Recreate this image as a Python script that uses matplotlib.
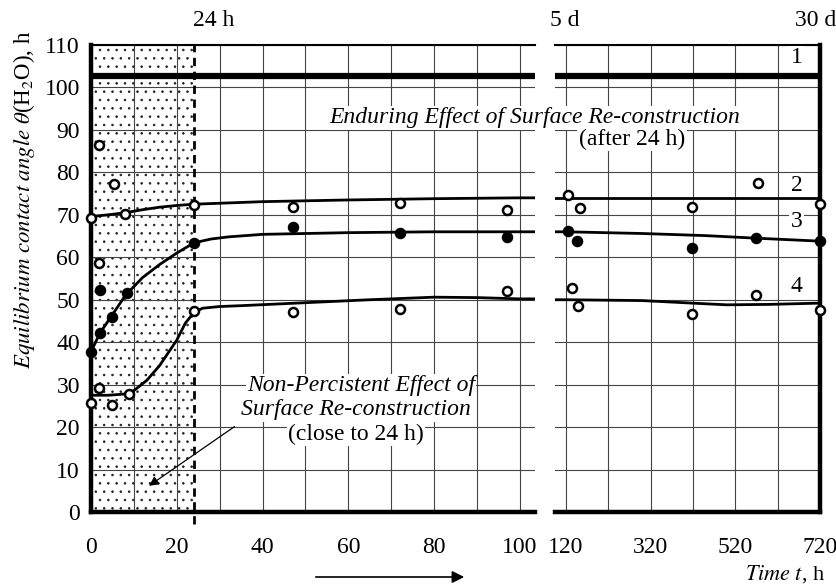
import matplotlib
matplotlib.use("Agg")
import matplotlib.pyplot as plt
from matplotlib.patches import Rectangle, FancyArrowPatch

plt.rcParams['font.family'] = ['Liberation Serif', 'DejaVu Serif']
plt.rcParams['mathtext.fontset'] = 'stix'
plt.rcParams['hatch.linewidth'] = 0.6

# ---------------- data ----------------
# curve 1 (constant)
c1_level = 102.8

# left panel (0-100 h) curve lines
c2_x = [0, 4, 8, 12, 16, 20, 24, 32, 40, 60, 80, 100, 103.5]
c2_y = [69.6, 70.0, 70.5, 71.2, 71.8, 72.2, 72.5, 72.8, 73.1, 73.5, 73.8, 74.0, 74.0]
c3_x = [0, 2, 5, 8, 12, 16, 20, 24, 28, 32, 40, 60, 80, 100, 103.5]
c3_y = [37.7, 42.0, 46.5, 51.0, 55.2, 58.3, 61.0, 63.4, 64.3, 64.8, 65.4, 65.8, 66.0, 66.0, 66.0]
c4_x = [0, 4, 8, 10, 13, 16, 18, 20, 22, 24, 26, 30, 35, 50, 65, 80, 90, 100, 103.5]
c4_y = [27.5, 27.5, 27.8, 28.6, 31.0, 34.5, 37.5, 40.5, 44.5, 47.0, 48.0, 48.4, 48.6, 49.3, 50.0, 50.6, 50.5, 50.2, 50.2]

# right panel (120-720 h) curve lines
r2_x = [95, 120, 320, 520, 720]
r2_y = [74.0, 74.0, 74.0, 74.0, 74.0]
r3_x = [95, 120, 300, 450, 568, 720]
r3_y = [66.0, 66.0, 65.6, 65.1, 64.5, 63.8]
r4_x = [95, 120, 300, 418, 500, 600, 720]
r4_y = [50.0, 50.0, 49.8, 49.2, 48.8, 48.9, 49.2]

# measured points: open circles
open_x_left = [0, 1.9, 5.3, 8, 24, 47, 72, 97,
               1.9, 24, 47, 72, 97,
               0, 1.9, 5, 8.9]
open_y_left = [69.3, 86.5, 77.3, 70.3, 72.4, 71.9, 72.8, 71.2,
               58.7, 47.4, 47.1, 47.8, 52.0,
               25.7, 29.2, 25.2, 27.8]
filled_x_left = [0, 2.1, 4.9, 8.3, 2.1, 24, 47, 72, 97]
filled_y_left = [37.7, 42.2, 46.0, 51.6, 52.3, 63.4, 67.1, 65.7, 64.8]

open_x_right = [125, 153, 418, 573, 720, 134, 148, 418, 568, 720]
open_y_right = [74.7, 71.6, 71.9, 77.5, 72.6, 52.8, 48.5, 46.6, 51.1, 47.6]
filled_x_right = [125, 146, 418, 568, 720]
filled_y_right = [66.2, 63.8, 62.2, 64.5, 63.8]

left_ticks = [0, 20, 40, 60, 80, 100]
left_minor = [10, 30, 50, 70, 90]
right_ticks = [120, 320, 520, 720]
right_minor = [220, 420, 620]
y_ticks = list(range(0, 111, 10))
curve_labels = ['1', '2', '3', '4']
curve_label_y = [107, 77, 68.5, 53]

# ---------------- figure ----------------
W, H = 837, 587
fig = plt.figure(figsize=(W / 100, H / 100), dpi=100)

def fx(px):
    return px / W

def fy(py):
    return 1 - py / H

axL = fig.add_axes([fx(91), fy(512), fx(535) - fx(91), fy(45) - fy(512)])
axR = fig.add_axes([fx(555), fy(512), fx(820) - fx(555), fy(45) - fy(512)])

FS = 17
for ax in (axL, axR):
    ax.set_ylim(0, 110)
    ax.set_yticks(y_ticks)
    ax.grid(True, which='both', color='#444444', lw=0.8, zorder=0)
    ax.tick_params(which='both', length=0, labelsize=FS, pad=18)
    ax.spines['top'].set_linewidth(1.5)
    ax.spines['bottom'].set_linewidth(3.2)
    ax.set_axisbelow(True)

axL.set_xlim(0, 103.5)
axL.set_xticks(left_ticks)
axL.set_xticks(left_minor, minor=True)
axL.spines['left'].set_linewidth(3.2)
axL.spines['right'].set_visible(False)
axL.tick_params(axis='y', pad=8)

axR.set_xlim(94, 720)
axR.set_xticks(right_ticks)
axR.set_xticks(right_minor, minor=True)
axR.spines['right'].set_linewidth(3.2)
axR.spines['left'].set_visible(False)
axR.tick_params(axis='y', labelleft=False)

# shaded dotted region (0-24 h)
axL.add_patch(Rectangle((0, 0), 24, 110, facecolor='white', edgecolor='#222222',
                        hatch='..', lw=0, zorder=0.5))
axL.plot([24, 24], [-2.8, 110], ls=(0, (3, 2)), color='black', lw=2, clip_on=False, zorder=3)

# lines
axL.axhline(c1_level, color='black', lw=4.5, zorder=3)
axR.axhline(c1_level, color='black', lw=4.5, zorder=3)
for x, y in [(c2_x, c2_y), (c3_x, c3_y), (c4_x, c4_y)]:
    axL.plot(x, y, color='black', lw=2, zorder=3)
for x, y in [(r2_x, r2_y), (r3_x, r3_y), (r4_x, r4_y)]:
    axR.plot(x, y, color='black', lw=2, zorder=3)

mk = dict(s=42, zorder=5, clip_on=False)
axL.scatter(open_x_left, open_y_left, facecolor='white', edgecolor='black', linewidths=1.8, **mk)
axL.scatter(filled_x_left, filled_y_left, facecolor='black', edgecolor='black', linewidths=1.8, **mk)
axR.scatter(open_x_right, open_y_right, facecolor='white', edgecolor='black', linewidths=1.8, **mk)
axR.scatter(filled_x_right, filled_y_right, facecolor='black', edgecolor='black', linewidths=1.8, **mk)

# curve number labels
for lab, yv in zip(curve_labels, curve_label_y):
    axR.text(665, yv, lab, fontsize=FS, ha='center', va='center', zorder=6,
             bbox=dict(facecolor='white', edgecolor='none', pad=1))

# top labels
fig.text(fx(214), fy(20), '24 h', fontsize=FS, ha='center', va='center')
fig.text(fx(565), fy(20), '5 d', fontsize=FS, ha='center', va='center')
fig.text(fx(836), fy(20), '30 d', fontsize=FS, ha='right', va='center')

# annotation texts
fig.text(fx(535), fy(118), 'Enduring Effect of Surface Re-construction', fontsize=FS,
         style='italic', ha='center', va='center', zorder=6,
         bbox=dict(facecolor='white', edgecolor='none', pad=1))
fig.text(fx(632), fy(139), '(after 24 h)', fontsize=FS, ha='center', va='center', zorder=6,
         bbox=dict(facecolor='white', edgecolor='none', pad=1))

axL.annotate('', xy=(13, 5.8), xytext=(34, 20.5),
             arrowprops=dict(arrowstyle='-|>', color='black', lw=0.9, mutation_scale=14),
             zorder=4)
fig.text(fx(361), fy(386), 'Non-Percistent Effect of', fontsize=FS, style='italic',
         ha='center', va='center', zorder=6,
         bbox=dict(facecolor='white', edgecolor='none', pad=1))
fig.text(fx(356), fy(410), 'Surface Re-construction', fontsize=FS, style='italic',
         ha='center', va='center', zorder=6,
         bbox=dict(facecolor='white', edgecolor='none', pad=1))
fig.text(fx(356), fy(434), '(close to 24 h)', fontsize=FS, ha='center', va='center', zorder=6,
         bbox=dict(facecolor='white', edgecolor='none', pad=1))

# axis labels
fig.text(fx(24), fy(200), r'$\mathit{Equilibrium\ contact\ angle\ \theta}$(H$_2$O), h',
         fontsize=16.5, rotation=90, ha='center', va='center')
fig.text(fx(785), fy(574), r'$\mathit{Time\ t}$, h', fontsize=16, ha='center', va='center')
fig.add_artist(FancyArrowPatch((fx(313), fy(577)), (fx(467), fy(577)),
               transform=fig.transFigure, arrowstyle='-|>', mutation_scale=18,
               color='black', lw=1.2))

fig.savefig('out.png', dpi=100)
